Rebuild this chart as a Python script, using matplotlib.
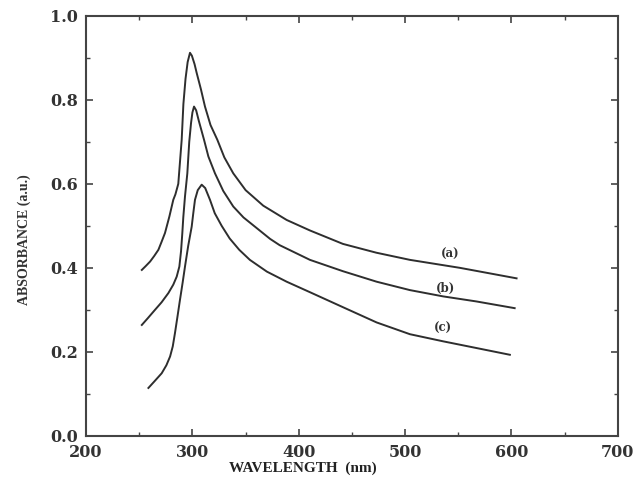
import matplotlib
matplotlib.use("Agg")
import matplotlib.pyplot as plt
from matplotlib.ticker import MultipleLocator

# curve (a)
wl_a = [252.4, 256, 260.2, 264, 268, 271, 274.2, 278.3, 282, 284, 286.7, 289.9, 291.5,
        293.5, 295.5, 297.7, 299.5, 302, 304, 308, 311.8, 317, 323.4, 330, 338.4, 350,
        366.6, 388.6, 410.5, 441.5, 473, 504.5, 551.5, 604.8]
ab_a = [0.395, 0.404, 0.415, 0.428, 0.443, 0.462, 0.483, 0.522, 0.562, 0.575, 0.60,
        0.705, 0.79, 0.85, 0.89, 0.912, 0.905, 0.885, 0.864, 0.825, 0.784, 0.74, 0.705,
        0.663, 0.625, 0.585, 0.548, 0.514, 0.489, 0.457, 0.436, 0.419, 0.40, 0.375]

# curve (b)
wl_b = [252.4, 258, 264.8, 271, 277.4, 282, 285.2, 287.7, 289.3, 290.5, 291.4, 293,
        295.2, 297, 298.7, 300, 301.5, 303.5, 306, 310.9, 315, 321.2, 329, 338.4, 348,
        358.8, 373, 382, 410.5, 441.5, 473.2, 504.5, 535.8, 567, 603]
ab_b = [0.264, 0.28, 0.30, 0.318, 0.34, 0.36, 0.379, 0.403, 0.44, 0.483, 0.52, 0.57,
        0.625, 0.70, 0.745, 0.77, 0.784, 0.775, 0.75, 0.705, 0.665, 0.625, 0.583, 0.546,
        0.52, 0.498, 0.469, 0.454, 0.419, 0.392, 0.367, 0.347, 0.332, 0.32, 0.304]

# curve (c)
wl_c = [258.6, 264, 271.1, 275.5, 279, 281.5, 283.6, 286, 288.3, 290.8, 293, 296,
        299.3, 300.8, 302.4, 305, 308.7, 312, 316.5, 321, 327.5, 335, 344, 354, 370,
        388.6, 410.5, 441.8, 473.2, 504.5, 535.8, 567.2, 598.5]
ab_c = [0.114, 0.129, 0.149, 0.168, 0.189, 0.213, 0.245, 0.285, 0.324, 0.365, 0.403,
        0.452, 0.498, 0.53, 0.562, 0.585, 0.598, 0.59, 0.562, 0.53, 0.50, 0.47, 0.443,
        0.419, 0.391, 0.367, 0.342, 0.306, 0.270, 0.242, 0.225, 0.209, 0.193]

labels = ["(a)", "(b)", "(c)"]
label_pos = [(542, 0.433), (538, 0.352), (535.5, 0.255)]

fig = plt.figure(figsize=(6.33, 4.8), dpi=100)
ax = fig.add_axes([0.136, 0.092, 0.840, 0.875])

line_col = "#2e2e2e"
for wl, ab in ((wl_a, ab_a), (wl_b, ab_b), (wl_c, ab_c)):
    ax.plot(wl, ab, color=line_col, lw=1.4, solid_joinstyle="round")

for lab, (x, y) in zip(labels, label_pos):
    ax.text(x, y, lab, ha="center", va="center", fontsize=8.5,
            fontweight="bold", family="DejaVu Serif", color="#333333")

ax.set_xlim(200, 700)
ax.set_ylim(0.0, 1.0)
ax.xaxis.set_major_locator(MultipleLocator(100))
ax.xaxis.set_minor_locator(MultipleLocator(50))
ax.yaxis.set_major_locator(MultipleLocator(0.2))
ax.yaxis.set_minor_locator(MultipleLocator(0.1))
ax.yaxis.set_major_formatter(plt.FuncFormatter(lambda v, p: "%.1f" % v))

ax.tick_params(which="both", direction="in", top=True, right=True, color="#444444")
ax.tick_params(which="major", length=5, width=1.2, labelsize=11.5, pad=6)
ax.tick_params(which="minor", length=3, width=1.0)
for lbl in ax.get_xticklabels() + ax.get_yticklabels():
    lbl.set_family("DejaVu Serif")
    lbl.set_fontweight("bold")
    lbl.set_color("#333333")

for sp in ax.spines.values():
    sp.set_linewidth(1.5)
    sp.set_color("#444444")

ax.set_xlabel("WAVELENGTH  (nm)", fontsize=11, fontweight="bold",
              family="Liberation Serif", color="#222222")
ax.xaxis.set_label_coords(0.408, -0.062)
ax.set_ylabel("ABSORBANCE (a.u.)", fontsize=10, fontweight="bold",
              family="Liberation Serif", color="#333333")
ax.yaxis.set_label_coords(-0.104, 0.467)

fig.savefig("out.png", dpi=100)
